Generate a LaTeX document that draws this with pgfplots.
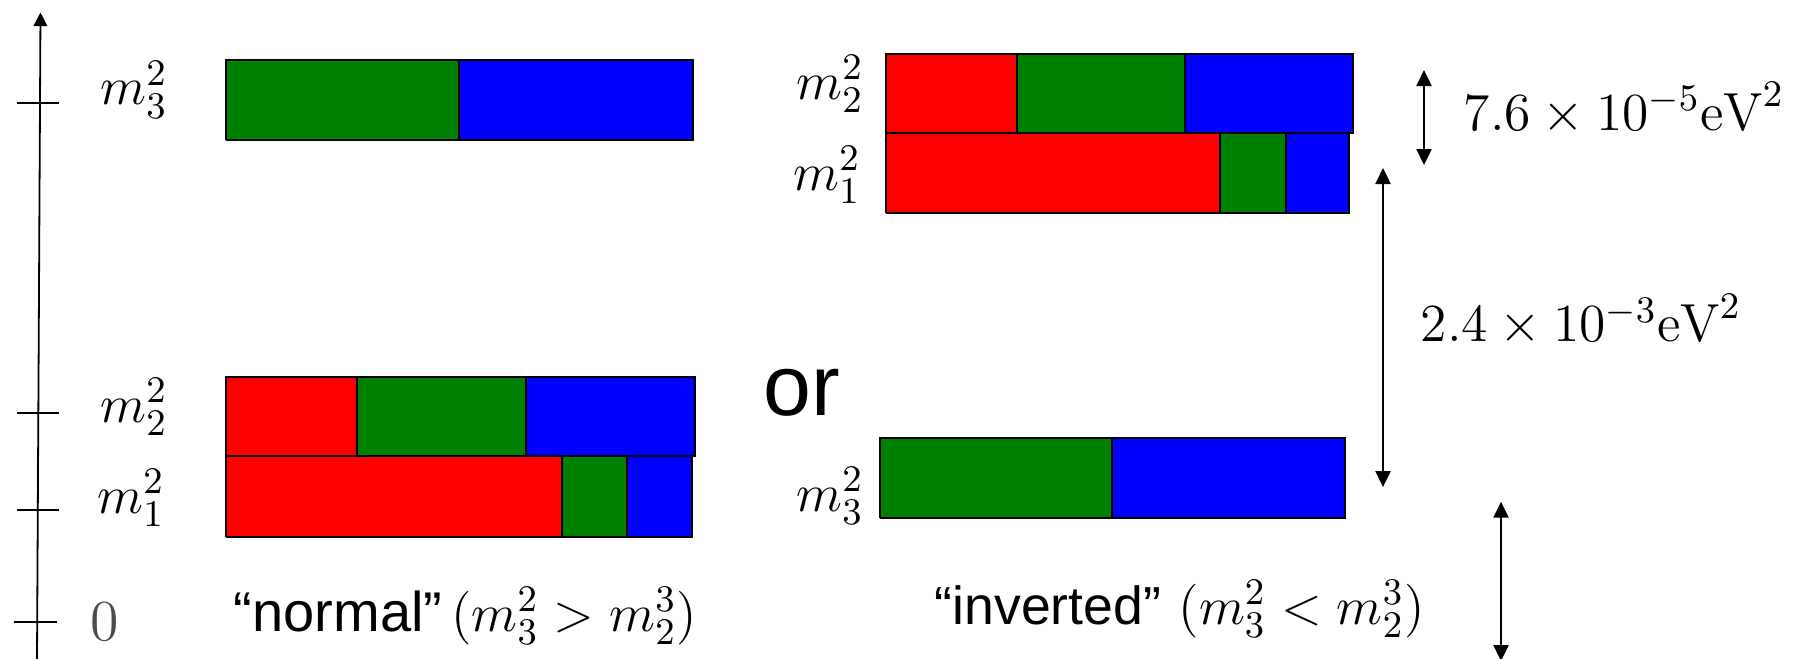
\RequirePackage{fix-cm}
\documentclass[border=0pt]{standalone}
\usepackage{fontspec}
\usepackage{pgfplots}
\pgfplotsset{compat=1.18}
\usetikzlibrary{arrows.meta}
\newfontfamily\arial{Liberation Sans}
\definecolor{cred}{RGB}{255,0,0}
\definecolor{cgreen}{RGB}{0,128,0}
\definecolor{cblue}{RGB}{0,0,255}
\tikzset{
  box/.style={draw=black, line width=0.5pt, line join=miter},
  lab/.style={inner sep=0pt, font=\fontsize{13.4}{16}\selectfont},
  dbl/.style={line width=0.4pt, {Triangle[length=4pt,width=3.8pt]}-{Triangle[length=4pt,width=3.8pt]}},
}
\begin{document}
\begin{tikzpicture}
\begin{axis}[name=ax, scale only axis, width=448.75pt, height=164.5pt,
  xmin=0, xmax=1795, ymin=0, ymax=658, hide axis, clip=false]
% vertical energy axis
\addplot[line width=0.45pt, -{Triangle[length=3.4pt,width=3.4pt]}] coordinates {(37,-2) (40.5,645.5)};
% ticks
\addplot[line width=0.45pt] coordinates {(16.6,554.7) (59.2,554.7)};
\addplot[line width=0.45pt] coordinates {(16.6,244.7) (59.2,244.7)};
\addplot[line width=0.45pt] coordinates {(16.6,147.7) (59.2,147.7)};
\addplot[line width=0.45pt] coordinates {(13.5,35.9) (57,35.9)};
% ---- normal ordering ----
% m3
\addplot[box, fill=cgreen] coordinates {(225.7,518) (459,518) (459,597.7) (225.7,597.7) (225.7,518)};
\addplot[box, fill=cblue] coordinates {(459,518) (693.3,518) (693.3,597.7) (459,597.7) (459,518)};
% m2
\addplot[box, fill=cred] coordinates {(225.7,201.7) (357.2,201.7) (357.2,281.4) (225.7,281.4) (225.7,201.7)};
\addplot[box, fill=cgreen] coordinates {(357.2,201.7) (525.9,201.7) (525.9,281.4) (357.2,281.4) (357.2,201.7)};
\addplot[box, fill=cblue] coordinates {(525.9,201.7) (694.6,201.7) (694.6,281.4) (525.9,281.4) (525.9,201.7)};
% m1
\addplot[box, fill=cred] coordinates {(225.7,121.5) (561.8,121.5) (561.8,201.7) (225.7,201.7) (225.7,121.5)};
\addplot[box, fill=cgreen] coordinates {(561.8,121.5) (626.9,121.5) (626.9,201.7) (561.8,201.7) (561.8,121.5)};
\addplot[box, fill=cblue] coordinates {(626.9,121.5) (691.5,121.5) (691.5,201.7) (626.9,201.7) (626.9,121.5)};
% ---- inverted ordering ----
% m2
\addplot[box, fill=cred] coordinates {(886,524.7) (1016.7,524.7) (1016.7,604) (886,604) (886,524.7)};
\addplot[box, fill=cgreen] coordinates {(1016.7,524.7) (1185,524.7) (1185,604) (1016.7,604) (1016.7,524.7)};
\addplot[box, fill=cblue] coordinates {(1185,524.7) (1352.7,524.7) (1352.7,604) (1185,604) (1185,524.7)};
% m1
\addplot[box, fill=cred] coordinates {(886,444.7) (1220,444.7) (1220,524.7) (886,524.7) (886,444.7)};
\addplot[box, fill=cgreen] coordinates {(1220,444.7) (1285.7,444.7) (1285.7,524.7) (1220,524.7) (1220,444.7)};
\addplot[box, fill=cblue] coordinates {(1285.7,444.7) (1349.3,444.7) (1349.3,524.7) (1285.7,524.7) (1285.7,444.7)};
% m3
\addplot[box, fill=cgreen] coordinates {(880,140.3) (1112.3,140.3) (1112.3,219.7) (880,219.7) (880,140.3)};
\addplot[box, fill=cblue] coordinates {(1112.3,140.3) (1345,140.3) (1345,219.7) (1112.3,219.7) (1112.3,140.3)};
% splitting arrows
\addplot[dbl] coordinates {(1424,588) (1424,493)};
\addplot[dbl] coordinates {(1383,490) (1383,171)};
\addplot[dbl] coordinates {(1501,156.3) (1501,-3)};
% labels
\node[lab] at (axis cs:134,568.3) {$m_3^2$};
\node[lab] at (axis cs:134,251) {$m_2^2$};
\node[lab] at (axis cs:131,160) {$m_1^2$};
\node[inner sep=0pt, font=\fontsize{14.5}{16}\selectfont, text=black!70] at (axis cs:105,36) {$0$};
\node[lab] at (axis cs:830,574) {$m_2^2$};
\node[lab] at (axis cs:827,483) {$m_1^2$};
\node[lab] at (axis cs:830,162) {$m_3^2$};
\node[lab, anchor=base west] at (axis cs:1463,528) {$7.6\times10^{-5}\mathrm{eV}^2$};
\node[lab, anchor=base west] at (axis cs:1420,316.3) {$2.4\times10^{-3}\mathrm{eV}^2$};
\node[inner sep=0pt, anchor=base west, font=\arial\fontsize{21.5}{24}\selectfont] at (axis cs:763,242.5) {or};
\node[inner sep=0pt, anchor=base west, font=\fontsize{13.4}{16}\selectfont] at (axis cs:233,27)
  {{\arial\fontsize{14}{16}\selectfont “normal”}\,$(m_3^2>m_2^3)$};
\node[inner sep=0pt, anchor=base west, font=\fontsize{13.4}{16}\selectfont] at (axis cs:934,34)
  {{\arial\fontsize{13.4}{16}\selectfont “inverted”} $(m_3^2<m_2^3)$};
\end{axis}
\pgfresetboundingbox
\path[use as bounding box] (ax.south west) rectangle (ax.north east);
\end{tikzpicture}
\end{document}
